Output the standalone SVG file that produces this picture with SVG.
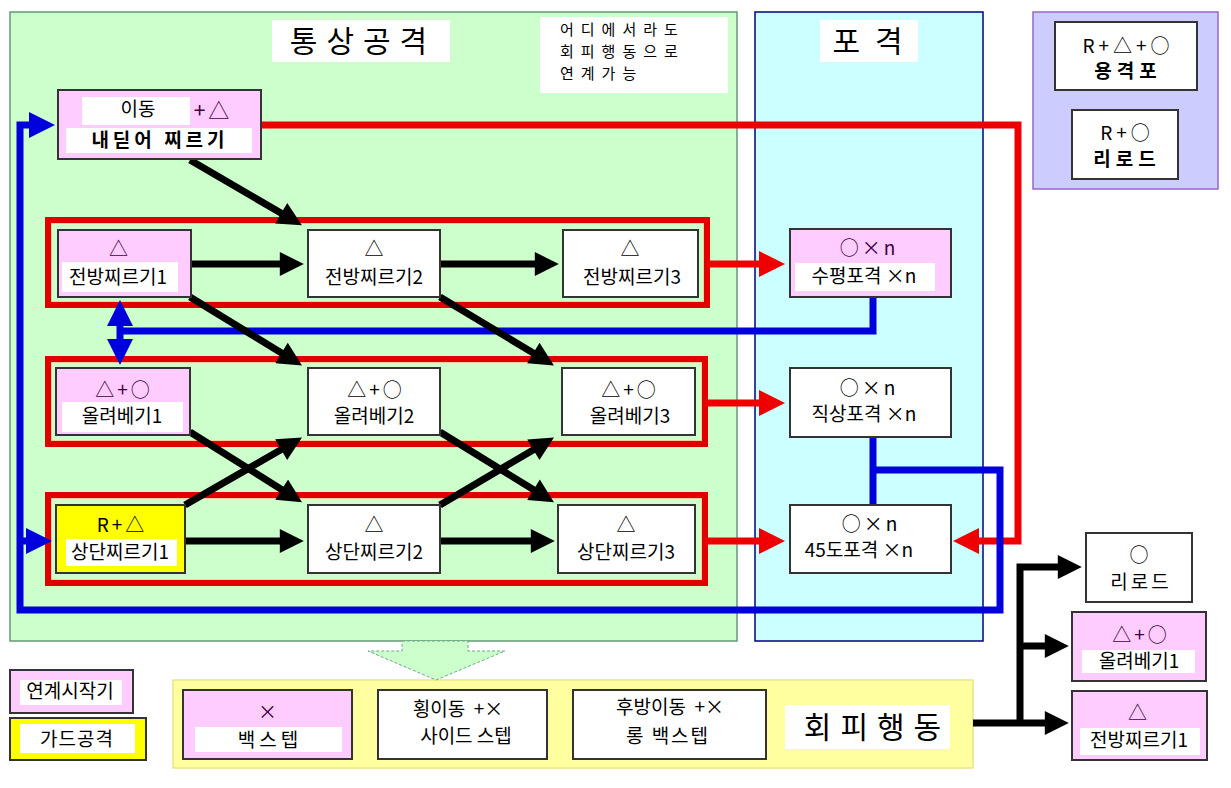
<svg xmlns="http://www.w3.org/2000/svg" width="1231" height="788" viewBox="0 0 1231 788">
<style>
text{font-family:"Noto Sans CJK KR","Noto Sans",sans-serif;fill:#000}
.t{font-size:19px;text-anchor:middle}
.s{font-size:19px;text-anchor:middle;fill:#400040;letter-spacing:3px}
.y{letter-spacing:3px}
.b{font-weight:bold}
.pre{white-space:pre}
.nd{stroke:#333;stroke-width:2}
.pk{fill:#ffccff}
.wh{fill:#fff}
.ye{fill:#ffff00}
.band{fill:#fff}
.grp{fill:none;stroke:#e00000;stroke-width:6}
.grpi{fill:none;stroke:#ffcc99;stroke-width:1}
.cb{fill:none;stroke:#000;stroke-width:7}
.cr{fill:none;stroke:#ee0000;stroke-width:7}
.cu{fill:none;stroke:#0000dd;stroke-width:7}
.big{font-size:30px;letter-spacing:9px}
.note{font-size:15px;letter-spacing:7px}
</style>
<defs>
<marker id="aB" viewBox="0 0 10 10" refX="4" refY="5" markerWidth="26" markerHeight="24" markerUnits="userSpaceOnUse" orient="auto"><path d="M0,0 L10,5 L0,10 z" fill="#000"/></marker>
<marker id="aR" viewBox="0 0 10 10" refX="4" refY="5" markerWidth="26" markerHeight="28" markerUnits="userSpaceOnUse" orient="auto"><path d="M0,0 L10,5 L0,10 z" fill="#ee0000"/></marker>
<marker id="aU" viewBox="0 0 10 10" refX="4" refY="5" markerWidth="26" markerHeight="26" markerUnits="userSpaceOnUse" orient="auto-start-reverse"><path d="M0,0 L10,5 L0,10 z" fill="#0000dd"/></marker>
</defs>
<rect width="1231" height="788" fill="#fff"/>

<!-- panels -->
<g id="panel-normal">
<rect x="10" y="12" width="727" height="629" fill="#ccffcc" stroke="#669977" stroke-width="1.5"/>
<rect x="272" y="20" width="178" height="42" fill="#fff"/>
<text x="363" y="52" class="t big">통상공격</text>
<rect x="540" y="17" width="188" height="76" fill="#fff"/>
<text x="560" y="35" class="note">어디에서라도</text>
<text x="560" y="57" class="note">회피행동으로</text>
<text x="560" y="79" class="note">연계가능</text>
</g>
<g id="panel-artillery">
<rect x="755" y="12" width="228" height="629" fill="#ccffff" stroke="#000080" stroke-width="1.5"/>
<rect x="820" y="20" width="98" height="42" fill="#fff"/>
<text x="875" y="52" class="t big" style="letter-spacing:15px">포격</text>
</g>
<g id="panel-special">
<rect x="1033" y="12" width="185" height="177" fill="#ccccff" stroke="#9966cc" stroke-width="1.5"/>
</g>
<g id="panel-evade">
<rect x="173" y="680" width="800" height="88" fill="#ffffa0" stroke="#e6e68a" stroke-width="1.5"/>
<polygon points="402,641 468,641 468,651 505,651 436,680 368,651 402,651" fill="#ccffcc" stroke="#66aa88" stroke-width="1" stroke-dasharray="3,2"/>
<rect x="785" y="705" width="165" height="44" fill="#fff"/>
<text x="877" y="738" class="t big">회피행동</text>
</g>

<!-- red group frames -->
<g id="groups">
<rect x="48" y="220" width="659" height="85" class="grp"/>
<rect x="51.5" y="223.5" width="652" height="78" class="grpi"/>
<rect x="48" y="359" width="657" height="85" class="grp"/>
<rect x="51.5" y="362.5" width="650" height="78" class="grpi"/>
<rect x="48" y="495" width="657" height="88" class="grp"/>
<rect x="51.5" y="498.5" width="650" height="81" class="grpi"/>
</g>

<!-- connectors -->
<g id="connectors">
<path class="cr" d="M261,125 H1018 V541 H968.6" marker-end="url(#aR)"/>
<line class="cr" x1="707" y1="264" x2="769.4" y2="264" marker-end="url(#aR)"/>
<line class="cr" x1="705" y1="403" x2="769.4" y2="403" marker-end="url(#aR)"/>
<line class="cr" x1="705" y1="541" x2="769.4" y2="541" marker-end="url(#aR)"/>

<path class="cu" d="M873,297 V331 H120"/>
<line class="cu" x1="120" y1="315.6" x2="120" y2="349.4" marker-start="url(#aU)" marker-end="url(#aU)"/>
<path class="cu" d="M873,437 V505"/>
<path class="cu" d="M873,470 H1000 V610 H20 V125 H39.4" marker-end="url(#aU)"/>
<line class="cu" x1="20" y1="541" x2="36.4" y2="541" marker-end="url(#aU)"/>

<line class="cb" x1="190" y1="160" x2="289.5" y2="218.1" marker-end="url(#aB)"/>
<line class="cb" x1="191" y1="264" x2="289.4" y2="264" marker-end="url(#aB)"/>
<line class="cb" x1="440" y1="264" x2="544.4" y2="264" marker-end="url(#aB)"/>
<line class="cb" x1="190" y1="297" x2="289.7" y2="357.9" marker-end="url(#aB)"/>
<line class="cb" x1="440" y1="297" x2="541.6" y2="358" marker-end="url(#aB)"/>
<line class="cb" x1="190" y1="432" x2="289.8" y2="494.7" marker-end="url(#aB)"/>
<line class="cb" x1="185" y1="505" x2="289.5" y2="444.8" marker-end="url(#aB)"/>
<line class="cb" x1="440" y1="432" x2="541.7" y2="494.8" marker-end="url(#aB)"/>
<line class="cb" x1="440" y1="505" x2="541.6" y2="444.9" marker-end="url(#aB)"/>
<line class="cb" x1="185" y1="541" x2="289.4" y2="541" marker-end="url(#aB)"/>
<line class="cb" x1="440" y1="541" x2="540.4" y2="541" marker-end="url(#aB)"/>

<line class="cb" x1="973" y1="723" x2="1054.4" y2="723" marker-end="url(#aB)"/>
<path class="cb" d="M1020,723 V567 H1067.4" marker-end="url(#aB)"/>
<line class="cb" x1="1020" y1="646" x2="1054.4" y2="646" marker-end="url(#aB)"/>
</g>

<!-- nodes -->
<g id="n-lunge">
<rect x="58" y="90" width="203" height="69" class="nd pk"/>
<rect x="82" y="97" width="108" height="28" class="band"/>
<rect x="66" y="128" width="186" height="25" class="band"/>
<text x="138" y="116" class="t">이동</text>
<text x="213" y="118" class="s" style="font-size:21px">+△</text>
<text x="160" y="147" class="t b" style="letter-spacing:4px">내딛어 찌르기</text>
</g>
<g id="n-jb1">
<rect x="58" y="230" width="133" height="67" class="nd pk"/>
<rect x="62" y="262" width="116" height="30" class="band"/>
<text x="120" y="256" class="s">△</text>
<text x="118" y="284" class="t">전방찌르기1</text>
</g>
<g id="n-jb2">
<rect x="308" y="230" width="132" height="67" class="nd wh"/>
<text x="374" y="256" class="t">△</text>
<text x="374" y="284" class="t">전방찌르기2</text>
</g>
<g id="n-jb3">
<rect x="563" y="230" width="135" height="67" class="nd wh"/>
<text x="630" y="256" class="t">△</text>
<text x="632" y="284" class="t">전방찌르기3</text>
</g>
<g id="n-horiz">
<rect x="790" y="229" width="161" height="68" class="nd pk"/>
<rect x="795" y="263" width="140" height="28" class="band"/>
<text x="869" y="255" class="s">○×n</text>
<text x="864" y="283" class="t">수평포격 ×n</text>
</g>
<g id="n-ol1">
<rect x="56" y="368" width="134" height="67" class="nd pk"/>
<rect x="62" y="402" width="121" height="30" class="band"/>
<text x="124" y="397" class="s">△+○</text>
<text x="122" y="423" class="t">올려베기1</text>
</g>
<g id="n-ol2">
<rect x="308" y="368" width="132" height="67" class="nd wh"/>
<text x="376" y="397" class="t y">△+○</text>
<text x="374" y="423" class="t">올려베기2</text>
</g>
<g id="n-ol3">
<rect x="562" y="368" width="133" height="67" class="nd wh"/>
<text x="630" y="397" class="t y">△+○</text>
<text x="630" y="423" class="t">올려베기3</text>
</g>
<g id="n-vert">
<rect x="790" y="368" width="161" height="69" class="nd wh"/>
<text x="869" y="395" class="t y">○×n</text>
<text x="864" y="421" class="t">직상포격 ×n</text>
</g>
<g id="n-sd1">
<rect x="56" y="505" width="129" height="68" class="nd ye"/>
<rect x="66" y="539" width="111" height="27" class="band"/>
<text x="122" y="532" class="t y">R+△</text>
<text x="120" y="559" class="t">상단찌르기1</text>
</g>
<g id="n-sd2">
<rect x="308" y="505" width="132" height="68" class="nd wh"/>
<text x="374" y="532" class="t">△</text>
<text x="374" y="559" class="t">상단찌르기2</text>
</g>
<g id="n-sd3">
<rect x="558" y="505" width="137" height="68" class="nd wh"/>
<text x="626" y="532" class="t">△</text>
<text x="626" y="559" class="t">상단찌르기3</text>
</g>
<g id="n-45">
<rect x="790" y="505" width="161" height="68" class="nd wh"/>
<text x="871" y="531" class="t y">○×n</text>
<text x="859" y="557" class="t">45도포격 ×n</text>
</g>
<g id="n-dragon">
<rect x="1055" y="22" width="142" height="68" class="nd wh"/>
<text x="1128" y="53" class="t" style="letter-spacing:4px">R+△+○</text>
<text x="1128" y="78" class="t b" style="letter-spacing:5px">용격포</text>
</g>
<g id="n-reload-a">
<rect x="1072" y="110" width="106" height="69" class="nd wh"/>
<text x="1127" y="140" class="t" style="letter-spacing:4px">R+○</text>
<text x="1127" y="166" class="t b" style="letter-spacing:5px">리로드</text>
</g>
<g id="n-reload-b">
<rect x="1086" y="533" width="106" height="69" class="nd wh"/>
<text x="1139" y="562" class="t">○</text>
<text x="1141" y="589" class="t" style="letter-spacing:3px">리로드</text>
</g>
<g id="n-ol1b">
<rect x="1072" y="612" width="134" height="69" class="nd pk"/>
<rect x="1082" y="650" width="113" height="23" class="band"/>
<text x="1141" y="642" class="s">△+○</text>
<text x="1139" y="668" class="t">올려베기1</text>
</g>
<g id="n-jb1b">
<rect x="1072" y="691" width="135" height="69" class="nd pk"/>
<rect x="1080" y="728" width="120" height="27" class="band"/>
<text x="1139" y="720" class="s">△</text>
<text x="1139" y="747" class="t">전방찌르기1</text>
</g>
<g id="n-backstep">
<rect x="183" y="690" width="169" height="69" class="nd pk"/>
<rect x="195" y="727" width="147" height="25" class="band"/>
<text x="269" y="719" class="s">×</text>
<text x="270" y="747" class="t" style="letter-spacing:4px">백스텝</text>
</g>
<g id="n-side">
<rect x="378" y="690" width="169" height="69" class="nd wh"/>
<text x="458" y="716" class="t pre" xml:space="preserve">횡이동  +×</text>
<text x="466" y="743" class="t">사이드 스텝</text>
</g>
<g id="n-long">
<rect x="573" y="690" width="193" height="69" class="nd wh"/>
<text x="670" y="714" class="t pre" xml:space="preserve">후방이동  +×</text>
<text x="668" y="743" class="t" style="letter-spacing:2px">롱 백스텝</text>
</g>

<!-- legend -->
<g id="legend-start">
<rect x="10" y="670" width="123" height="43" class="nd pk"/>
<rect x="20" y="680" width="102" height="25" class="band"/>
<text x="70" y="698" class="t">연계시작기</text>
</g>
<g id="legend-guard">
<rect x="10" y="718" width="136" height="42" class="nd ye"/>
<rect x="20" y="724" width="115" height="29" class="band"/>
<text x="77" y="746" class="t" style="letter-spacing:1px">가드공격</text>
</g>
</svg>
